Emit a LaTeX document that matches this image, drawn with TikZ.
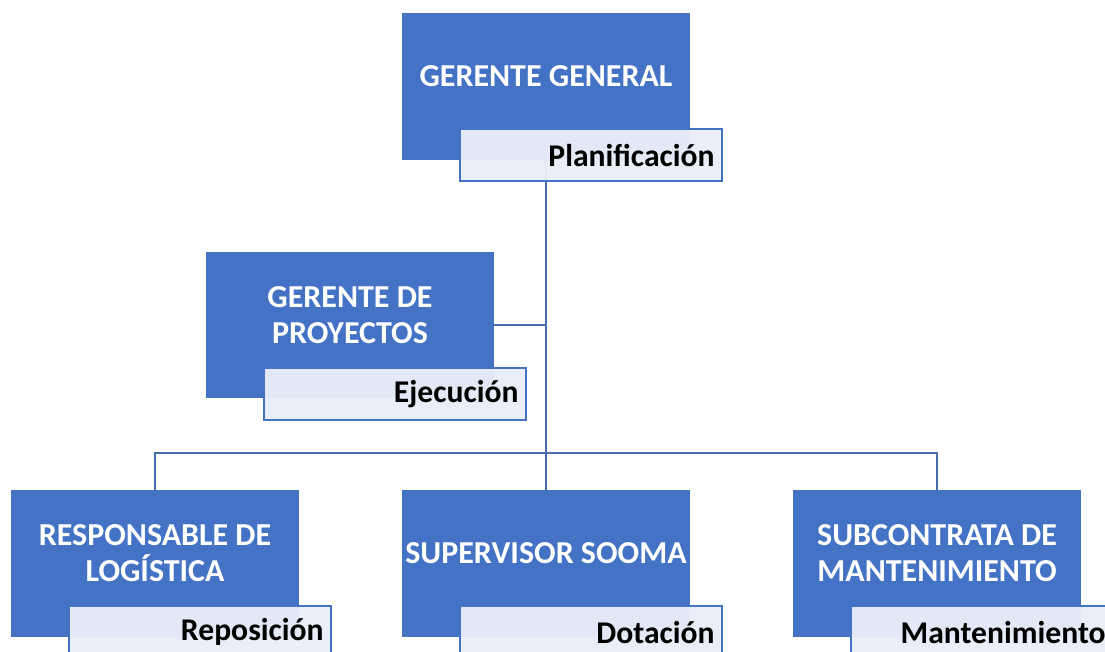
\documentclass[tikz,border=0pt]{standalone}
\usepackage{fontspec}
\setmainfont{Carlito}
\usetikzlibrary{positioning,calc}
\definecolor{unitblue}{HTML}{4472C4}
\definecolor{linkblue}{HTML}{4A6DB2}
\definecolor{tagfill}{HTML}{E9EDF7}

\tikzset{
  unit/.style={fill=unitblue, minimum width=5.76cm, minimum height=2.94cm, inner sep=0pt},
  unittext/.style={text=white, align=center, font=\fontsize{18.2}{20.5}\selectfont\bfseries},
  tag/.style={draw=unitblue, line width=1.1pt, fill=tagfill, fill opacity=0.96, text opacity=1,
    minimum height=1.04cm, text width=4.96cm, inner xsep=0.14cm, align=right,
    font=\fontsize{18}{20}\selectfont\bfseries, anchor=north west},
  link/.style={draw=linkblue, line width=1.15pt}
}

\begin{document}
\begin{tikzpicture}[x=0.02cm, y=-0.02cm]
\useasboundingbox (0,0) rectangle (1105,652);

% cargos
\node[unit] (gg) at (546,86.5) {};
\node[unit] (gp) at (350,325) {};
\node[unit] (rl) at (155,563.5) {};
\node[unit] (ss) at (546,563.5) {};
\node[unit] (sm) at (937,563.5) {};

\node[unittext] (gg-t) at ([yshift=0.2cm]gg.center) {GERENTE GENERAL};
\node[unittext] (gp-t) at ([yshift=0.2cm]gp.center) {GERENTE DE\\PROYECTOS};
\node[unittext] (rl-t) at ([yshift=0.2cm]rl.center) {RESPONSABLE DE\\LOGÍSTICA};
\node[unittext] (ss-t) at ([yshift=0.2cm]ss.center) {SUPERVISOR SOOMA};
\node[unittext] (sm-t) at ([yshift=0.2cm]sm.center) {SUBCONTRATA DE\\MANTENIMIENTO};

% lineas
\coordinate (bus) at (546,453);
\draw[link] (gg.south) -- (bus);
\draw[link] (gp.east) -- (gp.east -| gg.south);
\draw[link] (rl.north) |- (bus) -| (sm.north);
\draw[link] (bus) -- (ss.north);

% funciones
\node[tag] (gg-f) at ([xshift=1.14cm, yshift=0.64cm]gg.south west) {Planificación};
\node[tag] (gp-f) at ([xshift=1.14cm, yshift=0.64cm]gp.south west) {Ejecución};
\node[tag] (rl-f) at ([xshift=1.14cm, yshift=0.64cm]rl.south west) {Reposición};
\node[tag] (ss-f) at ([xshift=1.14cm, yshift=0.64cm]ss.south west) {Dotación};
\node[tag] (sm-f) at ([xshift=1.14cm, yshift=0.64cm]sm.south west) {Mantenimiento};
\end{tikzpicture}
\end{document}
